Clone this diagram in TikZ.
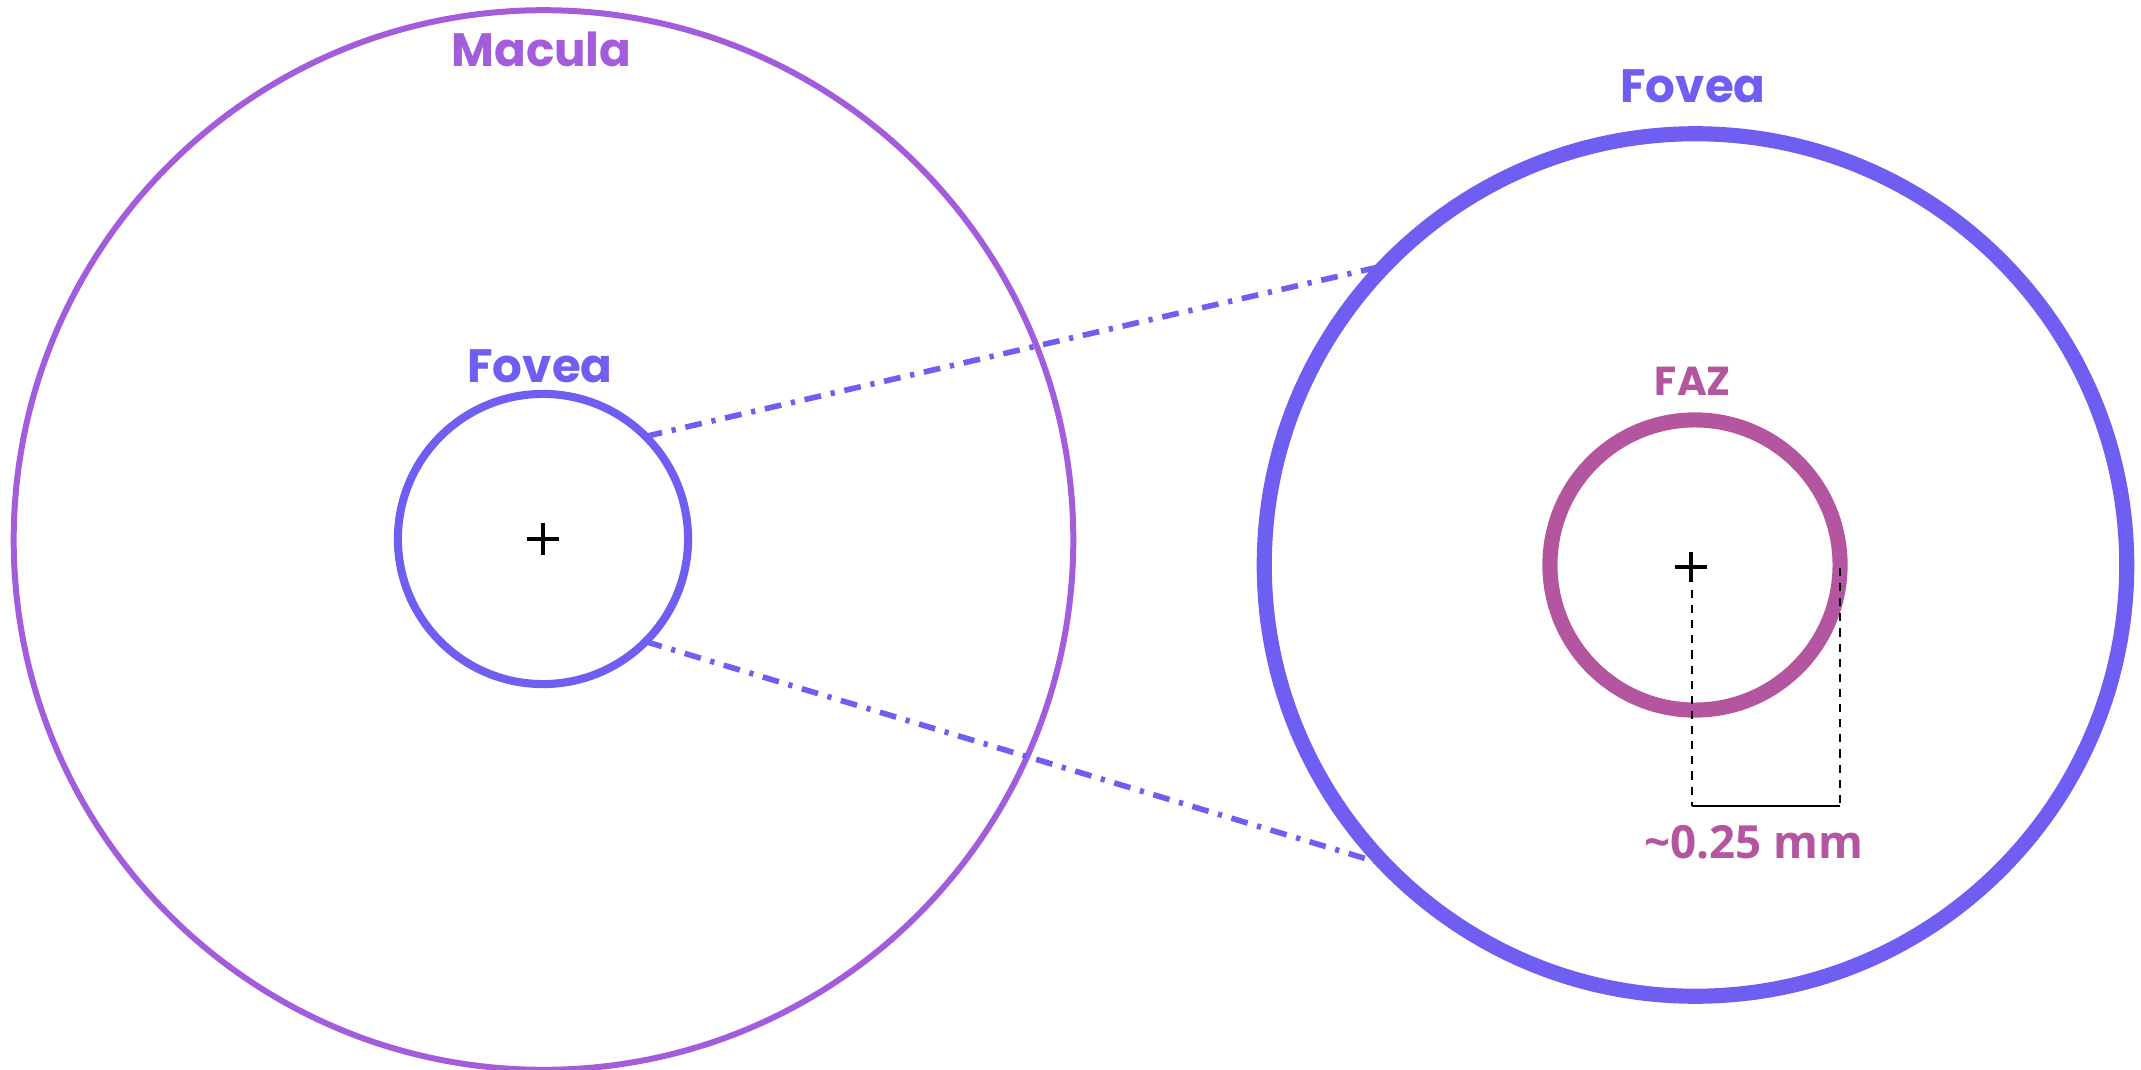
\documentclass[tikz,border=0pt]{standalone}
\usepackage{fontspec}
\setmainfont{Poppins}
\newfontfamily\numfont{Open Sans}
\usepackage{tikz}
\usetikzlibrary{positioning,calc}
\definecolor{maculacol}{HTML}{A35CDC}
\definecolor{foveacol}{HTML}{6F5EF2}
\definecolor{fazcol}{HTML}{B4559F}
\tikzset{
  ring/.style     ={draw, circle, inner sep=0pt, outer sep=0pt},
  lbl/.style      ={font=\bfseries\fontsize{13.3}{16}\selectfont, inner sep=0pt, anchor=base},
  smalllbl/.style ={font=\bfseries\fontsize{11.5}{14}\selectfont, inner sep=0pt, anchor=base},
  zoomline/.style ={draw=foveacol, line width=1.6pt, dash pattern=on 4.8pt off 2.8pt on 1.2pt off 2.8pt},
  crossmark/.style={line width=0.9pt},
  dimdash/.style  ={line width=0.6pt, dash pattern=on 2.3pt off 2pt},
  dimline/.style  ={line width=0.6pt},
}

\begin{document}
\begin{tikzpicture}[x=0.01cm, y=-0.01cm]
  \useasboundingbox (0,0) rectangle (2141,1070);

  % left: macula with fovea inside
  \node[ring, draw=maculacol, line width=1.7pt, minimum size=10.59cm] (macula) at (543.5,540) {};
  \node[ring, draw=foveacol, line width=2.3pt, minimum size=2.90cm] (fovS) at (543,539) {};
  \node[lbl, text=maculacol] (maculaLbl) at (541.5,67) {Macula};
  \node[lbl, text=foveacol] (fovSLbl) at (540,383) {Fovea};
  \draw[crossmark] (fovS.center) +(-16,0) -- +(16,0) +(0,-16) -- +(0,16);

  % right: enlarged fovea with FAZ
  \node[ring, draw=foveacol, line width=4.3pt, minimum size=8.62cm] (fovB) at (1695.5,565) {};
  \node[ring, draw=fazcol, line width=4.3pt, minimum size=2.90cm] (faz) at (1695,565) {};
  \node[lbl, text=foveacol] (fovBLbl) at (1693,103) {Fovea};
  \node[smalllbl, text=fazcol] (fazLbl) at (1693,396) {FAZ};
  \coordinate (fazC) at (1691,567);
  \draw[crossmark] (fazC) +(-16,0) -- +(16,0) +(0,-15) -- +(0,15);

  % zoom lines
  \draw[zoomline] (fovS.45) -- (fovB.136.5);
  \draw[zoomline] (fovS.-45) -- (fovB.-136.5);

  % radius mark
  \coordinate (r1) at (1692,590);
  \coordinate (r1b) at (1692,806);
  \coordinate (r2) at (1840,568);
  \coordinate (r2b) at (1840,806);
  \draw[dimdash] (r1) -- (r1b);
  \draw[dimdash] (r2) -- (r2b);
  \draw[dimline] (r1b) -- (r2b);
  \node[smalllbl, text=fazcol, font=\numfont\bfseries\fontsize{13}{15}\selectfont] (radLbl) at (1754,858) {\char`\~0.25 mm};
\end{tikzpicture}
\end{document}
